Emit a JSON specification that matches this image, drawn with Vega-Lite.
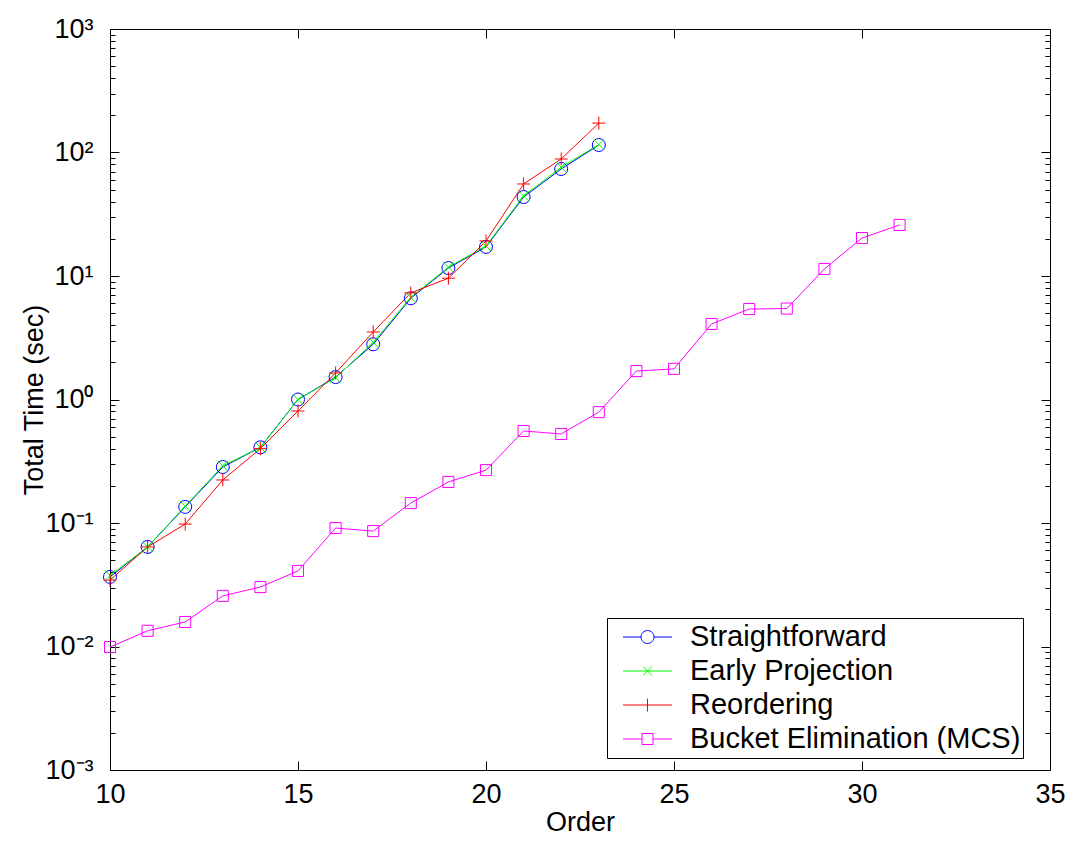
{
  "$schema": "https://vega.github.io/schema/vega-lite/v6.json",
  "width": 940,
  "height": 741,
  "autosize": {"type": "none"},
  "padding": {"left": 110, "top": 29, "right": 23, "bottom": 71},
  "background": "white",
  "config": {
    "font": "Liberation Sans",
    "view": {"stroke": "black", "strokeWidth": 1},
    "axis": {
      "labelFont": "Liberation Sans",
      "labelFontSize": 27,
      "labelColor": "black",
      "titleFont": "Liberation Sans",
      "titleFontSize": 27,
      "titleFontWeight": "normal",
      "titleColor": "black",
      "tickColor": "black",
      "tickWidth": 1,
      "domain": false,
      "grid": false,
      "labelFlush": false
    },
    "legend": {
      "orient": "none",
      "legendX": 497,
      "legendY": 589,
      "padding": 2,
      "strokeColor": "black",
      "fillColor": "white",
      "symbolSize": 6400,
      "clipHeight": 34,
      "rowPadding": 0,
      "labelFont": "Liberation Sans",
      "labelFontSize": 29,
      "labelColor": "black",
      "labelOffset": 0,
      "labelLimit": 600,
      "symbolStrokeWidth": 1,
      "title": null
    }
  },
  "data": {
    "values": [
      {"order": 10, "time": 0.0366, "method": "Straightforward"},
      {"order": 11, "time": 0.064, "method": "Straightforward"},
      {"order": 12, "time": 0.135, "method": "Straightforward"},
      {"order": 13, "time": 0.284, "method": "Straightforward"},
      {"order": 14, "time": 0.41, "method": "Straightforward"},
      {"order": 15, "time": 1.0, "method": "Straightforward"},
      {"order": 16, "time": 1.52, "method": "Straightforward"},
      {"order": 17, "time": 2.8, "method": "Straightforward"},
      {"order": 18, "time": 6.6, "method": "Straightforward"},
      {"order": 19, "time": 11.6, "method": "Straightforward"},
      {"order": 20, "time": 17.2, "method": "Straightforward"},
      {"order": 21, "time": 43.6, "method": "Straightforward"},
      {"order": 22, "time": 73.5, "method": "Straightforward"},
      {"order": 23, "time": 115, "method": "Straightforward"},
      {"order": 10, "time": 0.0375, "method": "Early Projection"},
      {"order": 11, "time": 0.064, "method": "Early Projection"},
      {"order": 12, "time": 0.137, "method": "Early Projection"},
      {"order": 13, "time": 0.29, "method": "Early Projection"},
      {"order": 14, "time": 0.41, "method": "Early Projection"},
      {"order": 15, "time": 1.0, "method": "Early Projection"},
      {"order": 16, "time": 1.5, "method": "Early Projection"},
      {"order": 17, "time": 2.9, "method": "Early Projection"},
      {"order": 18, "time": 6.7, "method": "Early Projection"},
      {"order": 19, "time": 11.8, "method": "Early Projection"},
      {"order": 20, "time": 17.5, "method": "Early Projection"},
      {"order": 21, "time": 44.5, "method": "Early Projection"},
      {"order": 22, "time": 76, "method": "Early Projection"},
      {"order": 23, "time": 116, "method": "Early Projection"},
      {"order": 10, "time": 0.0345, "method": "Reordering"},
      {"order": 11, "time": 0.064, "method": "Reordering"},
      {"order": 12, "time": 0.098, "method": "Reordering"},
      {"order": 13, "time": 0.223, "method": "Reordering"},
      {"order": 14, "time": 0.40, "method": "Reordering"},
      {"order": 15, "time": 0.807, "method": "Reordering"},
      {"order": 16, "time": 1.64, "method": "Reordering"},
      {"order": 17, "time": 3.52, "method": "Reordering"},
      {"order": 18, "time": 7.3, "method": "Reordering"},
      {"order": 19, "time": 9.6, "method": "Reordering"},
      {"order": 20, "time": 19.2, "method": "Reordering"},
      {"order": 21, "time": 55.6, "method": "Reordering"},
      {"order": 22, "time": 88.6, "method": "Reordering"},
      {"order": 23, "time": 173, "method": "Reordering"},
      {"order": 10, "time": 0.0099, "method": "Bucket Elimination (MCS)"},
      {"order": 11, "time": 0.0134, "method": "Bucket Elimination (MCS)"},
      {"order": 12, "time": 0.0158, "method": "Bucket Elimination (MCS)"},
      {"order": 13, "time": 0.0257, "method": "Bucket Elimination (MCS)"},
      {"order": 14, "time": 0.0303, "method": "Bucket Elimination (MCS)"},
      {"order": 15, "time": 0.0409, "method": "Bucket Elimination (MCS)"},
      {"order": 16, "time": 0.091, "method": "Bucket Elimination (MCS)"},
      {"order": 17, "time": 0.086, "method": "Bucket Elimination (MCS)"},
      {"order": 18, "time": 0.145, "method": "Bucket Elimination (MCS)"},
      {"order": 19, "time": 0.215, "method": "Bucket Elimination (MCS)"},
      {"order": 20, "time": 0.268, "method": "Bucket Elimination (MCS)"},
      {"order": 21, "time": 0.556, "method": "Bucket Elimination (MCS)"},
      {"order": 22, "time": 0.526, "method": "Bucket Elimination (MCS)"},
      {"order": 23, "time": 0.79, "method": "Bucket Elimination (MCS)"},
      {"order": 24, "time": 1.70, "method": "Bucket Elimination (MCS)"},
      {"order": 25, "time": 1.77, "method": "Bucket Elimination (MCS)"},
      {"order": 26, "time": 4.09, "method": "Bucket Elimination (MCS)"},
      {"order": 27, "time": 5.40, "method": "Bucket Elimination (MCS)"},
      {"order": 28, "time": 5.45, "method": "Bucket Elimination (MCS)"},
      {"order": 29, "time": 11.4, "method": "Bucket Elimination (MCS)"},
      {"order": 30, "time": 20.3, "method": "Bucket Elimination (MCS)"},
      {"order": 31, "time": 25.9, "method": "Bucket Elimination (MCS)"}
    ]
  },
  "encoding": {
    "color": {
      "field": "method", "type": "nominal",
      "scale": {"domain": ["Straightforward", "Early Projection", "Reordering", "Bucket Elimination (MCS)"], "range": ["#0000ff", "#00ff00", "#ff0000", "#ff00ff"]}
    }
  },
  "layer": [
    {
      "mark": {"type": "line", "strokeWidth": 1},
      "encoding": {
        "x": {
          "field": "order", "type": "quantitative",
          "scale": {"domain": [10, 35], "nice": false, "zero": false},
          "axis": {"orient": "bottom", "values": [10, 15, 20, 25, 30, 35], "tickSize": -9, "labelPadding": 20, "title": "Order", "titlePadding": 2}
        },
        "y": {
          "field": "time", "type": "quantitative",
          "scale": {"type": "log", "domain": [0.001, 1000], "nice": false},
          "axis": {
            "orient": "left",
            "values": [0.001,0.002,0.003,0.004,0.005,0.006,0.007,0.008,0.009,0.01,0.02,0.03,0.04,0.05,0.06,0.07,0.08,0.09,0.1,0.2,0.3,0.4,0.5,0.6,0.7,0.8,0.9,1,2,3,4,5,6,7,8,9,10,20,30,40,50,60,70,80,90,100,200,300,400,500,600,700,800,900,1000],
            "labelExpr": "abs(log(datum.value)/LN10 - round(log(datum.value)/LN10)) < 1e-6 ? (round(log(datum.value)/LN10) == 3 ? '10³' : round(log(datum.value)/LN10) == 2 ? '10²' : round(log(datum.value)/LN10) == 1 ? '10¹' : round(log(datum.value)/LN10) == 0 ? '10⁰' : round(log(datum.value)/LN10) == -1 ? '10⁻¹' : round(log(datum.value)/LN10) == -2 ? '10⁻²' : '10⁻³') : ''",
            "tickSize": {"condition": {"test": "abs(log(datum.value)/LN10 - round(log(datum.value)/LN10)) < 1e-6", "value": -9}, "value": -5},
            "labelPadding": 26,
            "labelOverlap": false,
            "title": "Total Time (sec)",
            "titlePadding": -4
          }
        }
      }
    },
    {
      "transform": [{"filter": "datum.method == 'Straightforward'"}],
      "mark": {"type": "point", "shape": "circle", "filled": false, "size": 169, "strokeWidth": 1, "opacity": 1},
      "encoding": {
        "x": {
          "field": "order", "type": "quantitative",
          "scale": {"domain": [10, 35], "nice": false, "zero": false},
          "axis": {"orient": "top", "values": [10, 15, 20, 25, 30, 35], "tickSize": -9, "labels": false, "title": null}
        },
        "y": {
          "field": "time", "type": "quantitative",
          "scale": {"type": "log", "domain": [0.001, 1000], "nice": false},
          "axis": {
            "orient": "right",
            "values": [0.001,0.002,0.003,0.004,0.005,0.006,0.007,0.008,0.009,0.01,0.02,0.03,0.04,0.05,0.06,0.07,0.08,0.09,0.1,0.2,0.3,0.4,0.5,0.6,0.7,0.8,0.9,1,2,3,4,5,6,7,8,9,10,20,30,40,50,60,70,80,90,100,200,300,400,500,600,700,800,900,1000],
            "tickSize": {"condition": {"test": "abs(log(datum.value)/LN10 - round(log(datum.value)/LN10)) < 1e-6", "value": -9}, "value": -5},
            "labels": false,
            "title": null
          }
        }
      }
    },
    {
      "transform": [{"filter": "datum.method == 'Early Projection'"}],
      "mark": {"type": "point", "shape": "M-0.8,-0.8L0.8,0.8M-0.8,0.8L0.8,-0.8", "filled": false, "size": 169, "strokeWidth": 1, "opacity": 1},
      "encoding": {
        "x": {"field": "order", "type": "quantitative", "axis": null},
        "y": {"field": "time", "type": "quantitative", "axis": null}
      }
    },
    {
      "transform": [{"filter": "datum.method == 'Reordering'"}],
      "mark": {"type": "point", "shape": "M-1,0L1,0M0,-1L0,1", "filled": false, "size": 169, "strokeWidth": 1, "opacity": 1},
      "encoding": {
        "x": {"field": "order", "type": "quantitative", "axis": null},
        "y": {"field": "time", "type": "quantitative", "axis": null}
      }
    },
    {
      "transform": [{"filter": "datum.method == 'Bucket Elimination (MCS)'"}],
      "mark": {"type": "point", "shape": "M-0.85,-0.85L0.85,-0.85L0.85,0.85L-0.85,0.85Z", "filled": false, "size": 169, "strokeWidth": 1, "opacity": 1},
      "encoding": {
        "x": {"field": "order", "type": "quantitative", "axis": null},
        "y": {"field": "time", "type": "quantitative", "axis": null}
      }
    },
    {
      "transform": [{"filter": "false"}],
      "mark": {"type": "point", "filled": false, "strokeWidth": 1, "opacity": 1},
      "encoding": {
        "x": {"field": "order", "type": "quantitative", "axis": null},
        "y": {"field": "time", "type": "quantitative", "axis": null},
        "shape": {
          "field": "method", "type": "nominal",
          "scale": {
            "domain": ["Straightforward", "Early Projection", "Reordering", "Bucket Elimination (MCS)"],
            "range": [
              "M-0.6625,0L-0.2125,0M0.1125,0L0.5625,0M0.1125,0A0.1625,0.1625 0 1,1 -0.2125,0A0.1625,0.1625 0 1,1 0.1125,0",
              "M-0.6625,0L0.5625,0M-0.16,-0.11L0.06,0.11M-0.16,0.11L0.06,-0.11",
              "M-0.6625,0L0.5625,0M-0.05,-0.1625L-0.05,0.1625",
              "M-0.6625,0L-0.1875,0M0.0875,0L0.5625,0M-0.1875,-0.1375L0.0875,-0.1375L0.0875,0.1375L-0.1875,0.1375Z"
            ]
          }
        }
      }
    }
  ],
  "resolve": {"axis": {"x": "independent", "y": "independent"}}
}
